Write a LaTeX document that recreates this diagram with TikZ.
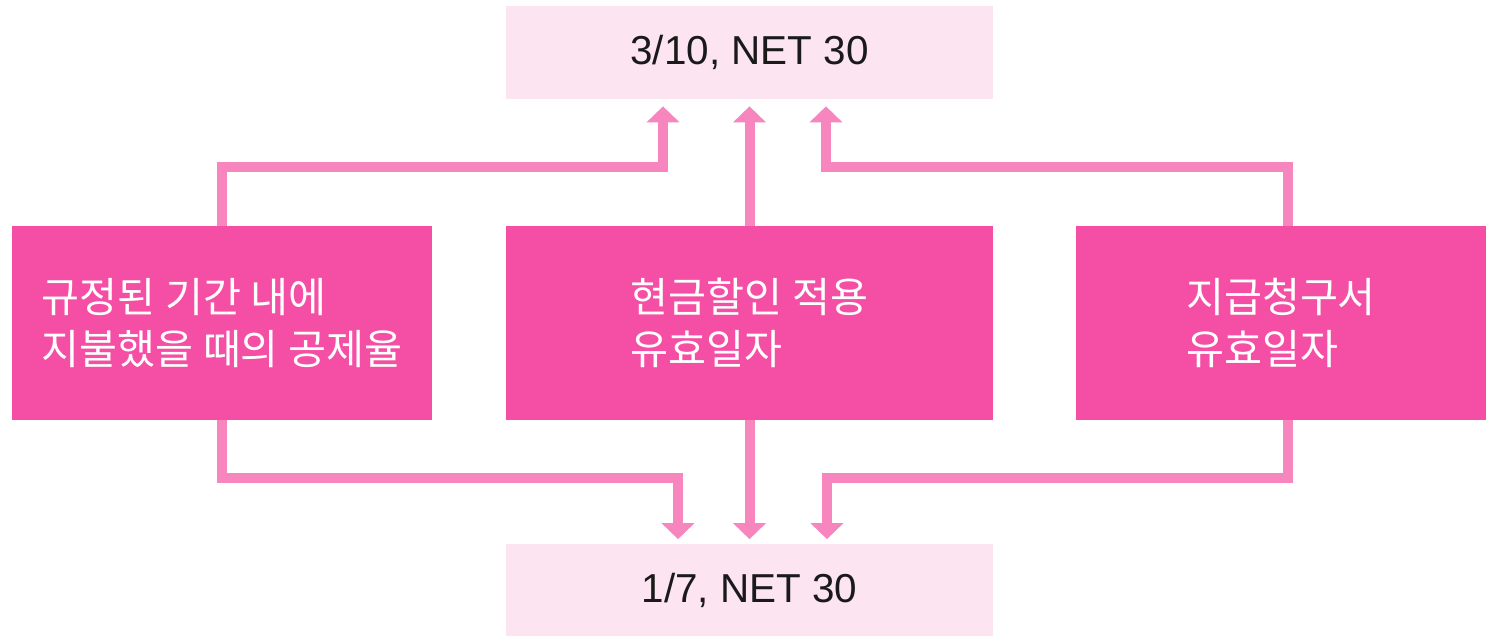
\documentclass[tikz,border=0pt]{standalone}
\usepackage{fontspec}
\setmainfont{Liberation Sans}
\newfontfamily\kr{Noto Sans CJK KR}
\usetikzlibrary{arrows.meta}
\definecolor{boxpink}{HTML}{F54FA5}
\definecolor{linepink}{HTML}{F786BF}
\definecolor{lightpink}{HTML}{FDE4F1}
\definecolor{txt}{HTML}{1A1A1A}
\tikzset{
  lightbox/.style={fill=lightpink, draw=none, minimum width=9.74cm, minimum height=1.86cm, inner sep=0pt, text=txt, font=\fontsize{23}{27}\selectfont},
  darkbox/.style={fill=boxpink, draw=none, minimum height=3.88cm, inner sep=0pt, text=white, align=left, font=\kr\fontsize{23.5}{29.8}\selectfont},
  conn/.style={draw=linepink, line width=0.2cm, line join=miter, -{Triangle[width=0.64cm,length=0.32cm]}}
}
\begin{document}
\begin{tikzpicture}[x=0.02cm,y=-0.02cm]
\useasboundingbox (0,0) rectangle (1492,636);
\node[lightbox] (T) at (749.5,52.5) {3/10, NET 30};
\node[lightbox] (B) at (749.5,590) {1/7, NET 30};
\node[darkbox, minimum width=8.4cm] (L) at (222,323) {규정된 기간 내에\\지불했을 때의 공제율};
\node[darkbox, minimum width=9.74cm] (M) at (749.5,323) {현금할인 적용\\유효일자};
\node[darkbox, minimum width=8.2cm] (R) at (1281,323) {지급청구서\\유효일자};
% upward connectors
\draw[conn, shorten >=0.14cm] (L.north) -- ++(0,-59) -| ([xshift=-1.73cm]T.south);
\draw[conn, shorten >=0.14cm] (M.north) -- (T.south);
\draw[conn, shorten >=0.14cm] ([xshift=0.14cm]R.north) -- ++(0,-59) -| ([xshift=1.53cm]T.south);
% downward connectors
\draw[conn, shorten >=0.08cm] (L.south) -- ++(0,58) -| ([xshift=-1.43cm]B.north);
\draw[conn, shorten >=0.08cm] (M.south) -- (B.north);
\draw[conn, shorten >=0.08cm] ([xshift=0.14cm]R.south) -- ++(0,58) -| ([xshift=1.55cm]B.north);
\end{tikzpicture}
\end{document}
